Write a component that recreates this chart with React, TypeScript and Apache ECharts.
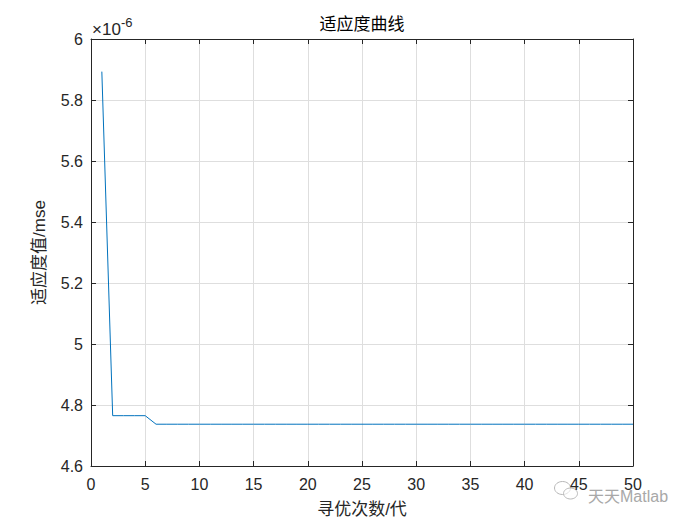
import React, { useEffect, useRef } from "react";
import * as echarts from "echarts";

// Values in units of 1e-6 (axis shows the ×10^-6 multiplier)
const iterations: number[] = Array.from({ length: 50 }, (_, i) => i + 1);
const fitness: number[] = [
  5.893, 4.765, 4.765, 4.765, 4.765,
  4.737, 4.737, 4.737, 4.737, 4.737,
  4.737, 4.737, 4.737, 4.737, 4.737,
  4.737, 4.737, 4.737, 4.737, 4.737,
  4.737, 4.737, 4.737, 4.737, 4.737,
  4.737, 4.737, 4.737, 4.737, 4.737,
  4.737, 4.737, 4.737, 4.737, 4.737,
  4.737, 4.737, 4.737, 4.737, 4.737,
  4.737, 4.737, 4.737, 4.737, 4.737,
  4.737, 4.737, 4.737, 4.737, 4.737,
];
const titleText = "适应度曲线";
const xName = "寻优次数/代";
const yName = "适应度值/mse";

const FONT = "'Liberation Sans', Arial, 'Noto Sans CJK SC', sans-serif";
const AXIS_COLOR = "#262626";

export default function App() {
  const ref = useRef<HTMLDivElement>(null);
  useEffect(() => {
    if (!ref.current) return;
    const chart = echarts.init(ref.current, undefined, { renderer: "svg" });
    const fmt = (v: number) => String(Number(v.toFixed(1)));
    const axisCommon = {
      axisLine: { show: true, onZero: false, lineStyle: { color: AXIS_COLOR, width: 1 } },
      axisTick: { show: true, inside: true, length: 5, lineStyle: { color: AXIS_COLOR } },
    };
    chart.setOption({
      animation: false,
      backgroundColor: "#ffffff",
      textStyle: { fontFamily: FONT },
      title: {
        text: titleText,
        left: 354,
        textAlign: "center",
        top: 8,
        padding: 0,
        textStyle: { fontSize: 17, fontWeight: "normal", color: "#000", fontFamily: FONT },
      },
      grid: { left: 83, right: 75, top: 31, bottom: 67, containLabel: false },
      xAxis: [
        {
          type: "value",
          min: 0,
          max: 50,
          interval: 5,
          position: "bottom",
          ...axisCommon,
          axisLabel: { color: AXIS_COLOR, fontSize: 16, margin: 10, fontFamily: FONT },
          splitLine: { show: true, lineStyle: { color: "#dedede", width: 1 } },
          name: xName,
          nameLocation: "middle",
          nameGap: 35,
          nameTextStyle: { fontSize: 17, color: AXIS_COLOR, fontFamily: FONT },
        },
        {
          type: "value",
          min: 0,
          max: 50,
          interval: 5,
          position: "top",
          ...axisCommon,
          axisLabel: { show: false },
          splitLine: { show: false },
        },
      ],
      yAxis: [
        {
          type: "value",
          min: 4.6,
          max: 6,
          interval: 0.2,
          position: "left",
          ...axisCommon,
          axisLabel: { color: AXIS_COLOR, fontSize: 16, margin: 8, formatter: fmt, fontFamily: FONT },
          splitLine: { show: true, lineStyle: { color: "#dedede", width: 1 } },
          name: yName,
          nameLocation: "middle",
          nameGap: 43,
          nameTextStyle: { fontSize: 17, color: AXIS_COLOR, fontFamily: FONT },
        },
        {
          type: "value",
          min: 4.6,
          max: 6,
          interval: 0.2,
          position: "right",
          ...axisCommon,
          axisLabel: { show: false },
          splitLine: { show: false },
        },
      ],
      series: [
        {
          type: "line",
          data: iterations.map((x, i) => [x, fitness[i]]),
          showSymbol: false,
          symbol: "none",
          lineStyle: { color: "#0072BD", width: 1 },
          xAxisIndex: 0,
          yAxisIndex: 0,
        },
      ],
      graphic: [
        {
          type: "text",
          left: 84,
          top: 13,
          style: { text: "×10", fontSize: 17, fill: AXIS_COLOR, fontFamily: FONT },
        },
        {
          type: "text",
          left: 113,
          top: 8,
          style: { text: "-6", fontSize: 13, fill: AXIS_COLOR, fontFamily: FONT },
        },
        {
          type: "group",
          left: 546,
          top: 473,
          children: [
            { type: "ellipse", shape: { cx: 8, cy: 7, rx: 8, ry: 6.5 }, style: { fill: "rgba(255,255,255,0.6)", stroke: "#b8b8b8", lineWidth: 1 } },
            { type: "ellipse", shape: { cx: 16, cy: 12.5, rx: 7, ry: 5.5 }, style: { fill: "rgba(255,255,255,0.6)", stroke: "#b8b8b8", lineWidth: 1 } },
          ],
        },
        {
          type: "text",
          left: 580,
          top: 480,
          style: { text: "天天Matlab", fontSize: 16, fill: "#a8a8a8", fontFamily: FONT },
        },
      ],
    });
    return () => chart.dispose();
  }, []);
  return <div ref={ref} style={{ width: 700, height: 525 }} />;
}
